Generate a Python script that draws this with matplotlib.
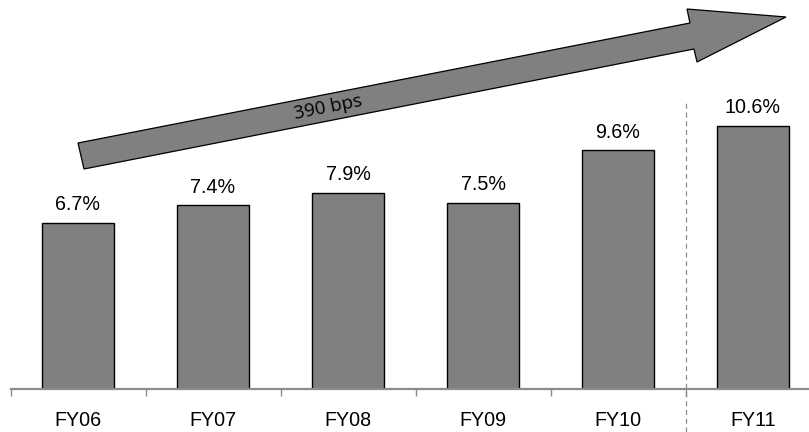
import matplotlib
matplotlib.use("Agg")
import matplotlib.pyplot as plt
from matplotlib.patches import Polygon

# Data
years = ["FY06", "FY07", "FY08", "FY09", "FY10", "FY11"]
margins = [6.7, 7.4, 7.9, 7.5, 9.6, 10.6]
growth_label = "390 bps"

W, H = 809, 432
fig = plt.figure(figsize=(W / 100, H / 100), dpi=100)
ax = fig.add_axes([10.5 / W, (H - 389) / H, 810 / W, 389 / H])
ax.set_xlim(-0.5, len(years) - 0.5)
ax.set_ylim(0, 389 / 24.85)

x = list(range(len(years)))
ax.bar(x, margins, width=0.535, color="#808080", edgecolor="black", linewidth=1.0, zorder=2)

for xi, v in zip(x, margins):
    ax.annotate(f"{v:.1f}%", (xi, v), xytext=(0, 6), textcoords="offset points",
                ha="center", va="bottom", fontsize=14.2, family="Liberation Sans")

# Axes styling
for s in ["top", "right", "left"]:
    ax.spines[s].set_visible(False)
ax.spines["bottom"].set_color("#8c8c8c")
ax.spines["bottom"].set_linewidth(1.6)
ax.set_yticks([])
ax.set_xticks([i - 0.5 for i in range(len(years) + 1)])
ax.set_xticklabels([])
ax.tick_params(axis="x", which="major", length=5, width=1, color="#8c8c8c", direction="out")
ax.set_xticks(x, minor=True)
ax.set_xticklabels(years, minor=True, fontsize=14.2, family="Liberation Sans")
ax.tick_params(axis="x", which="minor", length=0, pad=16)

# Divider between actuals and current year
ax.plot([4.5, 4.5], [-1.75, 11.5], color="#8c8c8c", linestyle=(0, (4, 3)),
        linewidth=0.9, clip_on=False, zorder=1)

# Growth arrow (figure pixel coordinates, origin top-left)
arrow_px = [(78, 143), (690, 23), (687, 9), (786, 17), (697, 62), (694, 49), (84, 169)]
arrow_pts = [(px / W, 1 - py / H) for px, py in arrow_px]
fig.patches.append(Polygon(arrow_pts, closed=True, facecolor="#808080", edgecolor="black",
                           linewidth=0.9, transform=fig.transFigure, figure=fig))
fig.text(328 / W, 1 - 108 / H, growth_label, rotation=11.1, ha="center", va="center",
         fontsize=13.5, family="Open Sans", rotation_mode="anchor")

fig.savefig("out.png", dpi=100)
